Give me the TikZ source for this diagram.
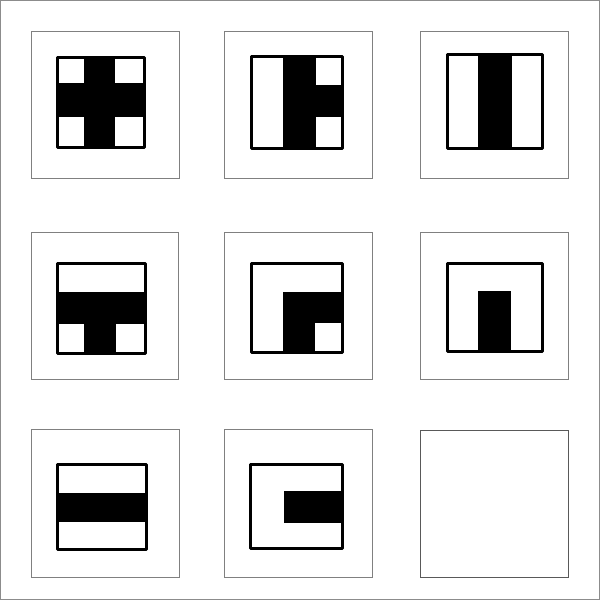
\documentclass[tikz,border=0pt]{standalone}
\begin{document}
\begin{tikzpicture}[x=1pt,y=-1pt,
  frame/.style={draw=black!50,line width=1pt},
  sq/.style={draw=black,line width=3pt,line join=round},
  blk/.style={fill=black}]
\useasboundingbox (0,0) rectangle (600,600);
\draw[draw=black!45,line width=1pt] (0.5,0.5) rectangle (599.5,599.5);
% frames
\draw[frame] (31,31) rectangle (179,178);
\draw[frame] (224,31) rectangle (372,178);
\draw[frame] (420,31) rectangle (568,178);
\draw[frame] (31,232) rectangle (178,379);
\draw[frame] (224,232) rectangle (372,379);
\draw[frame] (420,232) rectangle (568,379);
\draw[frame] (31,429) rectangle (179,577);
\draw[frame] (224,429) rectangle (372,577);
\draw[draw=black!65,line width=1pt] (420,430) rectangle (568,577);
% cell 1: cross
\fill[blk] (84,56) rectangle (115,149);
\fill[blk] (56,83) rectangle (146,117);
\draw[sq] (57.5,57.5) rectangle (144.5,147.5);
% cell 2
\fill[blk] (283,55) rectangle (316,150);
\fill[blk] (316,85) rectangle (344,117);
\draw[sq] (251.5,56.5) rectangle (342.5,148.5);
% cell 3
\fill[blk] (478,53) rectangle (512,150);
\draw[sq] (447.5,54.5) rectangle (542.5,148.5);
% cell 4
\fill[blk] (56,292) rectangle (147,324);
\fill[blk] (84,324) rectangle (116,355);
\draw[sq] (57.5,263.5) rectangle (145.5,353.5);
% cell 5
\fill[blk] (283,292) rectangle (344,323);
\fill[blk] (283,323) rectangle (315,354);
\draw[sq] (251.5,263.5) rectangle (342.5,352.5);
% cell 6
\fill[blk] (478,291) rectangle (511,353);
\draw[sq] (447.5,263.5) rectangle (542.5,351.5);
% cell 7
\fill[blk] (56,493) rectangle (148,522);
\draw[sq] (57.5,464.5) rectangle (146.5,549.5);
% cell 8
\fill[blk] (284,491) rectangle (344,523);
\draw[sq] (250.5,464.5) rectangle (342.5,548.5);
\end{tikzpicture}
\end{document}
